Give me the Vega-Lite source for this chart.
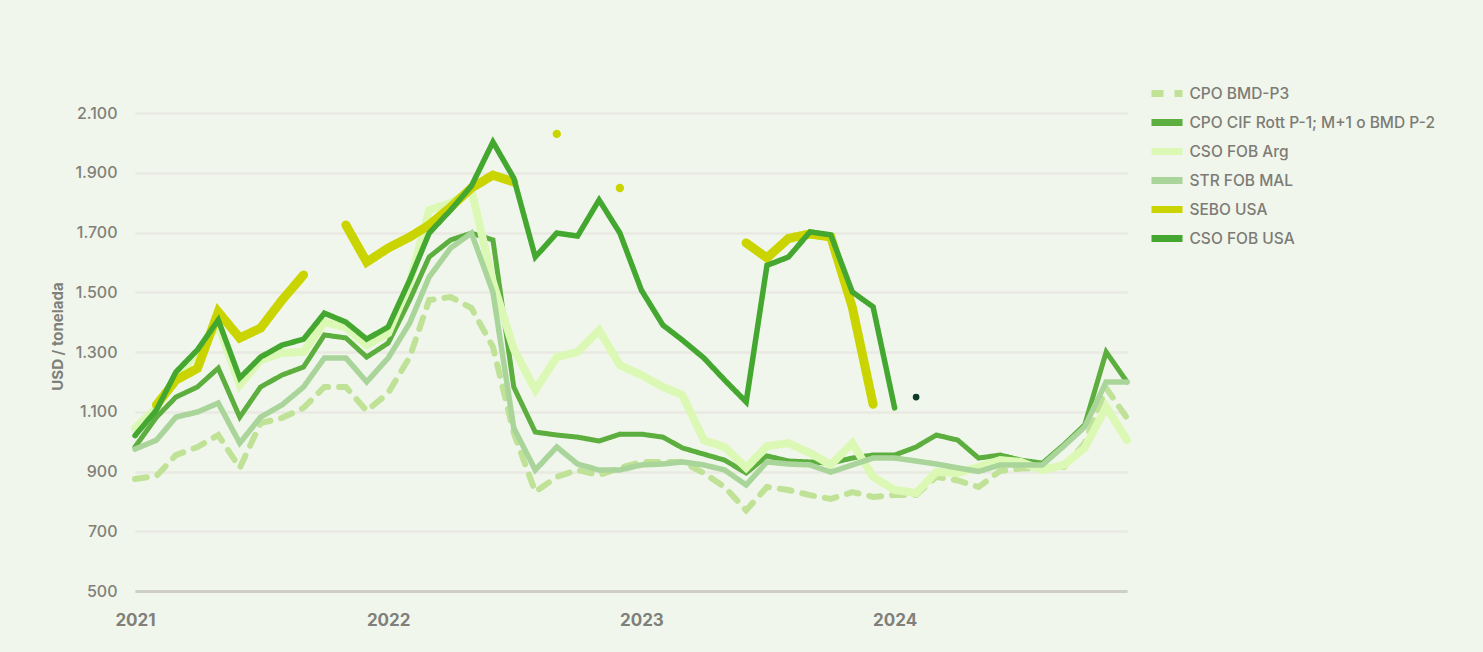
{
  "$schema": "https://vega.github.io/schema/vega-lite/v6.json",
  "width": 992,
  "height": 478,
  "autosize": "none",
  "padding": {"left": 135, "top": 113, "right": 356, "bottom": 61},
  "background": "#f1f6ec",
  "config": {
    "locale": {"number": {"decimal": ",", "thousands": ".", "grouping": [3], "currency": ["", "€"]}},
    "view": {"stroke": null},
    "font": "Inter",
    "legend": {
      "symbolStrokeWidth": 7,
      "symbolType": "M-1.55,0H1.55",
      "symbolSize": 400,
      "labelFontSize": 15.5,
      "labelFontWeight": 500,
      "labelColor": "#7c7c75",
      "labelOffset": 9,
      "labelLimit": 0,
      "rowPadding": 0,
      "padding": 0
    }
  },
  "datasets": {
    "prices": [
      {"date": "2021-01-01", "CPO BMD-P3": 875, "CPO CIF Rott P-1; M+1 o BMD P-2": 982, "CSO FOB Arg": 1045, "STR FOB MAL": 975, "SEBO USA": null, "CSO FOB USA": 1020},
      {"date": "2021-02-01", "CPO BMD-P3": 885, "CPO CIF Rott P-1; M+1 o BMD P-2": 1082, "CSO FOB Arg": 1113, "STR FOB MAL": 1005, "SEBO USA": 1123, "CSO FOB USA": 1106},
      {"date": "2021-03-01", "CPO BMD-P3": 955, "CPO CIF Rott P-1; M+1 o BMD P-2": 1149, "CSO FOB Arg": 1215, "STR FOB MAL": 1082, "SEBO USA": 1206, "CSO FOB USA": 1233},
      {"date": "2021-04-01", "CPO BMD-P3": 982, "CPO CIF Rott P-1; M+1 o BMD P-2": 1183, "CSO FOB Arg": 1300, "STR FOB MAL": 1099, "SEBO USA": 1245, "CSO FOB USA": 1307},
      {"date": "2021-05-01", "CPO BMD-P3": 1022, "CPO CIF Rott P-1; M+1 o BMD P-2": 1246, "CSO FOB Arg": 1390, "STR FOB MAL": 1129, "SEBO USA": 1434, "CSO FOB USA": 1407},
      {"date": "2021-06-01", "CPO BMD-P3": 912, "CPO CIF Rott P-1; M+1 o BMD P-2": 1082, "CSO FOB Arg": 1190, "STR FOB MAL": 995, "SEBO USA": 1347, "CSO FOB USA": 1213},
      {"date": "2021-07-01", "CPO BMD-P3": 1062, "CPO CIF Rott P-1; M+1 o BMD P-2": 1183, "CSO FOB Arg": 1273, "STR FOB MAL": 1082, "SEBO USA": 1380, "CSO FOB USA": 1283},
      {"date": "2021-08-01", "CPO BMD-P3": 1079, "CPO CIF Rott P-1; M+1 o BMD P-2": 1223, "CSO FOB Arg": 1297, "STR FOB MAL": 1123, "SEBO USA": 1474, "CSO FOB USA": 1323},
      {"date": "2021-09-01", "CPO BMD-P3": 1113, "CPO CIF Rott P-1; M+1 o BMD P-2": 1250, "CSO FOB Arg": 1300, "STR FOB MAL": 1183, "SEBO USA": 1558, "CSO FOB USA": 1343},
      {"date": "2021-10-01", "CPO BMD-P3": 1183, "CPO CIF Rott P-1; M+1 o BMD P-2": 1357, "CSO FOB Arg": 1400, "STR FOB MAL": 1280, "SEBO USA": null, "CSO FOB USA": 1430},
      {"date": "2021-11-01", "CPO BMD-P3": 1183, "CPO CIF Rott P-1; M+1 o BMD P-2": 1347, "CSO FOB Arg": 1383, "STR FOB MAL": 1280, "SEBO USA": 1725, "CSO FOB USA": 1400},
      {"date": "2021-12-01", "CPO BMD-P3": 1103, "CPO CIF Rott P-1; M+1 o BMD P-2": 1283, "CSO FOB Arg": 1323, "STR FOB MAL": 1200, "SEBO USA": 1601, "CSO FOB USA": 1343},
      {"date": "2022-01-01", "CPO BMD-P3": 1163, "CPO CIF Rott P-1; M+1 o BMD P-2": 1330, "CSO FOB Arg": 1363, "STR FOB MAL": 1280, "SEBO USA": 1648, "CSO FOB USA": 1384},
      {"date": "2022-02-01", "CPO BMD-P3": 1283, "CPO CIF Rott P-1; M+1 o BMD P-2": 1474, "CSO FOB Arg": 1531, "STR FOB MAL": 1397, "SEBO USA": 1685, "CSO FOB USA": 1541},
      {"date": "2022-03-01", "CPO BMD-P3": 1474, "CPO CIF Rott P-1; M+1 o BMD P-2": 1618, "CSO FOB Arg": 1775, "STR FOB MAL": 1551, "SEBO USA": 1725, "CSO FOB USA": 1698},
      {"date": "2022-04-01", "CPO BMD-P3": 1484, "CPO CIF Rott P-1; M+1 o BMD P-2": 1675, "CSO FOB Arg": 1799, "STR FOB MAL": 1648, "SEBO USA": 1785, "CSO FOB USA": 1775},
      {"date": "2022-05-01", "CPO BMD-P3": 1447, "CPO CIF Rott P-1; M+1 o BMD P-2": 1698, "CSO FOB Arg": 1842, "STR FOB MAL": 1698, "SEBO USA": 1849, "CSO FOB USA": 1856},
      {"date": "2022-06-01", "CPO BMD-P3": 1317, "CPO CIF Rott P-1; M+1 o BMD P-2": 1675, "CSO FOB Arg": 1534, "STR FOB MAL": 1500, "SEBO USA": 1892, "CSO FOB USA": 2003},
      {"date": "2022-07-01", "CPO BMD-P3": 1029, "CPO CIF Rott P-1; M+1 o BMD P-2": 1183, "CSO FOB Arg": 1310, "STR FOB MAL": 1046, "SEBO USA": 1869, "CSO FOB USA": 1882},
      {"date": "2022-08-01", "CPO BMD-P3": 832, "CPO CIF Rott P-1; M+1 o BMD P-2": 1032, "CSO FOB Arg": 1173, "STR FOB MAL": 905, "SEBO USA": null, "CSO FOB USA": 1618},
      {"date": "2022-09-01", "CPO BMD-P3": 882, "CPO CIF Rott P-1; M+1 o BMD P-2": 1022, "CSO FOB Arg": 1283, "STR FOB MAL": 982, "SEBO USA": 2030, "CSO FOB USA": 1698},
      {"date": "2022-10-01", "CPO BMD-P3": 905, "CPO CIF Rott P-1; M+1 o BMD P-2": 1015, "CSO FOB Arg": 1300, "STR FOB MAL": 925, "SEBO USA": null, "CSO FOB USA": 1688},
      {"date": "2022-11-01", "CPO BMD-P3": 888, "CPO CIF Rott P-1; M+1 o BMD P-2": 1002, "CSO FOB Arg": 1373, "STR FOB MAL": 905, "SEBO USA": null, "CSO FOB USA": 1809},
      {"date": "2022-12-01", "CPO BMD-P3": 912, "CPO CIF Rott P-1; M+1 o BMD P-2": 1025, "CSO FOB Arg": 1256, "STR FOB MAL": 905, "SEBO USA": 1849, "CSO FOB USA": 1698},
      {"date": "2023-01-01", "CPO BMD-P3": 932, "CPO CIF Rott P-1; M+1 o BMD P-2": 1025, "CSO FOB Arg": 1223, "STR FOB MAL": 922, "SEBO USA": null, "CSO FOB USA": 1507},
      {"date": "2023-02-01", "CPO BMD-P3": 932, "CPO CIF Rott P-1; M+1 o BMD P-2": 1015, "CSO FOB Arg": 1183, "STR FOB MAL": 925, "SEBO USA": null, "CSO FOB USA": 1390},
      {"date": "2023-03-01", "CPO BMD-P3": 932, "CPO CIF Rott P-1; M+1 o BMD P-2": 979, "CSO FOB Arg": 1156, "STR FOB MAL": 932, "SEBO USA": null, "CSO FOB USA": 1340},
      {"date": "2023-04-01", "CPO BMD-P3": 895, "CPO CIF Rott P-1; M+1 o BMD P-2": 958, "CSO FOB Arg": 1005, "STR FOB MAL": 922, "SEBO USA": null, "CSO FOB USA": 1280},
      {"date": "2023-05-01", "CPO BMD-P3": 848, "CPO CIF Rott P-1; M+1 o BMD P-2": 938, "CSO FOB Arg": 982, "STR FOB MAL": 905, "SEBO USA": null, "CSO FOB USA": 1206},
      {"date": "2023-06-01", "CPO BMD-P3": 770, "CPO CIF Rott P-1; M+1 o BMD P-2": 895, "CSO FOB Arg": 912, "STR FOB MAL": 855, "SEBO USA": 1665, "CSO FOB USA": 1133},
      {"date": "2023-07-01", "CPO BMD-P3": 848, "CPO CIF Rott P-1; M+1 o BMD P-2": 952, "CSO FOB Arg": 985, "STR FOB MAL": 932, "SEBO USA": 1615, "CSO FOB USA": 1590},
      {"date": "2023-08-01", "CPO BMD-P3": 838, "CPO CIF Rott P-1; M+1 o BMD P-2": 935, "CSO FOB Arg": 995, "STR FOB MAL": 925, "SEBO USA": 1680, "CSO FOB USA": 1618},
      {"date": "2023-09-01", "CPO BMD-P3": 821, "CPO CIF Rott P-1; M+1 o BMD P-2": 932, "CSO FOB Arg": 962, "STR FOB MAL": 922, "SEBO USA": 1695, "CSO FOB USA": 1702},
      {"date": "2023-10-01", "CPO BMD-P3": 808, "CPO CIF Rott P-1; M+1 o BMD P-2": 928, "CSO FOB Arg": 922, "STR FOB MAL": 898, "SEBO USA": 1685, "CSO FOB USA": 1692},
      {"date": "2023-11-01", "CPO BMD-P3": 831, "CPO CIF Rott P-1; M+1 o BMD P-2": 945, "CSO FOB Arg": 995, "STR FOB MAL": 922, "SEBO USA": 1450, "CSO FOB USA": 1501},
      {"date": "2023-12-01", "CPO BMD-P3": 815, "CPO CIF Rott P-1; M+1 o BMD P-2": 955, "CSO FOB Arg": 882, "STR FOB MAL": 945, "SEBO USA": 1125, "CSO FOB USA": 1451},
      {"date": "2024-01-01", "CPO BMD-P3": 821, "CPO CIF Rott P-1; M+1 o BMD P-2": 955, "CSO FOB Arg": 838, "STR FOB MAL": 945, "SEBO USA": null, "CSO FOB USA": 1113},
      {"date": "2024-02-01", "CPO BMD-P3": 821, "CPO CIF Rott P-1; M+1 o BMD P-2": 982, "CSO FOB Arg": 828, "STR FOB MAL": 935, "SEBO USA": null, "CSO FOB USA": null},
      {"date": "2024-03-01", "CPO BMD-P3": 882, "CPO CIF Rott P-1; M+1 o BMD P-2": 1022, "CSO FOB Arg": 898, "STR FOB MAL": 925, "SEBO USA": null, "CSO FOB USA": null},
      {"date": "2024-04-01", "CPO BMD-P3": 870, "CPO CIF Rott P-1; M+1 o BMD P-2": 1005, "CSO FOB Arg": 895, "STR FOB MAL": 912, "SEBO USA": null, "CSO FOB USA": null},
      {"date": "2024-05-01", "CPO BMD-P3": 848, "CPO CIF Rott P-1; M+1 o BMD P-2": 945, "CSO FOB Arg": 915, "STR FOB MAL": 900, "SEBO USA": null, "CSO FOB USA": null},
      {"date": "2024-06-01", "CPO BMD-P3": 902, "CPO CIF Rott P-1; M+1 o BMD P-2": 955, "CSO FOB Arg": 938, "STR FOB MAL": 922, "SEBO USA": null, "CSO FOB USA": null},
      {"date": "2024-07-01", "CPO BMD-P3": 910, "CPO CIF Rott P-1; M+1 o BMD P-2": 938, "CSO FOB Arg": 932, "STR FOB MAL": 922, "SEBO USA": null, "CSO FOB USA": null},
      {"date": "2024-08-01", "CPO BMD-P3": 912, "CPO CIF Rott P-1; M+1 o BMD P-2": 928, "CSO FOB Arg": 905, "STR FOB MAL": 922, "SEBO USA": null, "CSO FOB USA": null},
      {"date": "2024-09-01", "CPO BMD-P3": 915, "CPO CIF Rott P-1; M+1 o BMD P-2": 990, "CSO FOB Arg": 922, "STR FOB MAL": 985, "SEBO USA": null, "CSO FOB USA": null},
      {"date": "2024-10-01", "CPO BMD-P3": 995, "CPO CIF Rott P-1; M+1 o BMD P-2": 1056, "CSO FOB Arg": 979, "STR FOB MAL": 1049, "SEBO USA": null, "CSO FOB USA": null},
      {"date": "2024-11-01", "CPO BMD-P3": 1179, "CPO CIF Rott P-1; M+1 o BMD P-2": 1300, "CSO FOB Arg": 1116, "STR FOB MAL": 1200, "SEBO USA": null, "CSO FOB USA": null},
      {"date": "2024-12-01", "CPO BMD-P3": 1079, "CPO CIF Rott P-1; M+1 o BMD P-2": 1200, "CSO FOB Arg": 1005, "STR FOB MAL": 1200, "SEBO USA": null, "CSO FOB USA": null}
    ]
  },
  "layer": [
    {
      "data": {"name": "prices"},
      "transform": [
        {"fold": ["CPO BMD-P3", "CPO CIF Rott P-1; M+1 o BMD P-2", "CSO FOB Arg", "STR FOB MAL", "SEBO USA", "CSO FOB USA"], "as": ["series", "value"]}
      ],
      "encoding": {
        "x": {
          "field": "date", "type": "temporal",
          "scale": {"type": "utc", "domain": [{"year": 2021, "month": 1, "date": 1, "utc": true}, {"year": 2024, "month": 12, "date": 1, "utc": true}]},
          "axis": {
            "title": null, "format": "%Y", "grid": false, "ticks": false,
            "values": [{"year": 2021, "month": 1, "date": 1, "utc": true}, {"year": 2022, "month": 1, "date": 1, "utc": true}, {"year": 2023, "month": 1, "date": 1, "utc": true}, {"year": 2024, "month": 1, "date": 1, "utc": true}],
            "labelPadding": 21, "labelFontSize": 17, "labelFontWeight": 700, "labelColor": "#80807a",
            "labelFlush": false, "domainColor": "#cfcec6", "domainWidth": 3
          }
        },
        "y": {
          "field": "value", "type": "quantitative",
          "scale": {"domain": [500, 2100], "nice": false, "zero": false},
          "axis": {
            "title": "USD / tonelada", "values": [500, 700, 900, 1100, 1300, 1500, 1700, 1900, 2100],
            "format": ",d", "grid": true, "gridColor": "#e9e8e2", "gridWidth": 2.5,
            "domain": false, "ticks": false, "labelPadding": 18, "labelFontSize": 16, "labelFontWeight": 500,
            "labelColor": "#80807a", "titleFontSize": 15, "titleFontWeight": 700, "titleColor": "#80807a",
            "titleX": -78, "titleY": 223, "titleAngle": -90, "titleAlign": "center", "titleBaseline": "middle"
          }
        },
        "color": {
          "field": "series", "type": "nominal",
          "scale": {
            "domain": ["CPO BMD-P3", "CPO CIF Rott P-1; M+1 o BMD P-2", "CSO FOB Arg", "STR FOB MAL", "SEBO USA", "CSO FOB USA"],
            "range": ["#bfe297", "#5cae3e", "#dcf8b5", "#a9d59b", "#c9d400", "#44a830"]
          },
          "legend": {"title": null, "orient": "none", "legendX": 1018.5, "legendY": -33}
        },
        "strokeDash": {
          "field": "series", "type": "nominal",
          "scale": {
            "domain": ["CPO BMD-P3", "CPO CIF Rott P-1; M+1 o BMD P-2", "CSO FOB Arg", "STR FOB MAL", "SEBO USA", "CSO FOB USA"],
            "range": [[12, 11], [1, 0], [1, 0], [1, 0], [1, 0], [1, 0]]
          },
          "legend": {"title": null, "orient": "none", "legendX": 1018.5, "legendY": -33}
        }
      },
      "layer": [
        {
          "transform": [{"filter": {"field": "series", "oneOf": ["CPO BMD-P3"]}}],
          "mark": {"type": "line", "strokeCap": "round", "strokeJoin": "miter", "strokeWidth": 6}
        },
        {
          "transform": [{"filter": {"field": "series", "oneOf": ["CPO CIF Rott P-1; M+1 o BMD P-2"]}}],
          "mark": {"type": "line", "strokeCap": "round", "strokeJoin": "miter", "strokeWidth": 5}
        },
        {
          "transform": [{"filter": {"field": "series", "oneOf": ["CSO FOB Arg"]}}],
          "mark": {"type": "line", "strokeCap": "round", "strokeJoin": "miter", "strokeWidth": 8}
        },
        {
          "transform": [{"filter": {"field": "series", "oneOf": ["STR FOB MAL"]}}],
          "mark": {"type": "line", "strokeCap": "round", "strokeJoin": "miter", "strokeWidth": 5.5}
        },
        {
          "transform": [{"filter": {"field": "series", "oneOf": ["SEBO USA"]}}],
          "mark": {"type": "line", "strokeCap": "round", "strokeJoin": "miter", "strokeWidth": 9}
        },
        {
          "transform": [{"filter": {"field": "series", "oneOf": ["CSO FOB USA"]}}],
          "mark": {"type": "line", "strokeCap": "round", "strokeJoin": "miter", "strokeWidth": 5.5}
        }
      ]
    },
    {
      "data": {"values": [
        {"date": "2022-09-01", "series": "SEBO USA", "value": 2030},
        {"date": "2022-12-01", "series": "SEBO USA", "value": 1849}
      ]},
      "mark": {"type": "point", "filled": true, "opacity": 1, "color": "#c9d400", "size": 70},
      "encoding": {
        "x": {"field": "date", "type": "temporal"},
        "y": {"field": "value", "type": "quantitative"}
      }
    },
    {
      "data": {"values": [{"date": "2024-02-01", "value": 1149}]},
      "mark": {"type": "point", "filled": true, "opacity": 1, "color": "#0c3b26", "size": 45},
      "encoding": {
        "x": {"field": "date", "type": "temporal"},
        "y": {"field": "value", "type": "quantitative"}
      }
    }
  ]
}
